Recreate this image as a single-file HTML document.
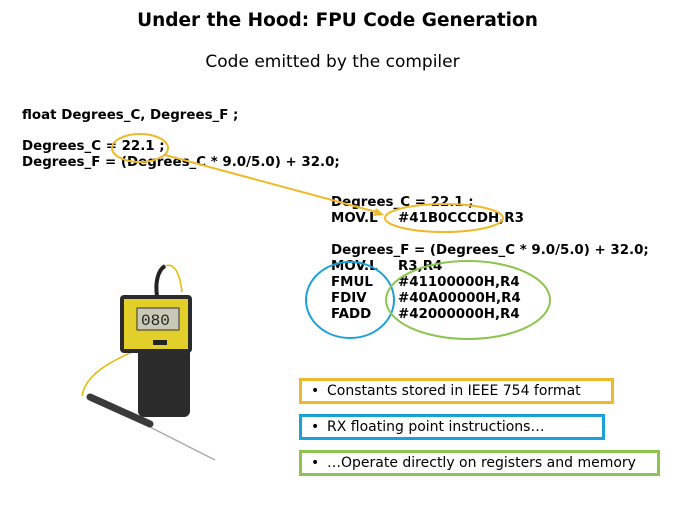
<!DOCTYPE html>
<html><head><style>
body{margin:0;width:675px;height:506px;background:#fff;position:relative;overflow:hidden;font-family:"DejaVu Sans",sans-serif}
.t{position:absolute;white-space:pre;color:#000}
.c{font-weight:bold;font-size:13.4px;line-height:16px}
.box{position:absolute;border:3px solid;height:20px;font-size:14px;line-height:20px;box-sizing:content-box}
.box span{position:absolute;left:9px}
.box b{font-weight:normal;position:absolute;left:25px}
</style></head><body>
<div class="t" style="left:0;width:675px;text-align:center;top:10px;font-size:18.5px;font-weight:bold">Under the Hood: FPU Code Generation</div>
<div class="t" style="left:0;width:665px;text-align:center;top:52px;font-size:17px">Code emitted by the compiler</div>
<div class="t c" style="left:22px;top:108px">float Degrees_C, Degrees_F ;</div>
<div class="t c" style="left:22px;top:139px">Degrees_C = 22.1 ;</div>
<div class="t c" style="left:22px;top:155px">Degrees_F = (Degrees_C * 9.0/5.0) + 32.0;</div>
<div class="t c" style="left:331px;top:195px">Degrees_C = 22.1 ;</div>
<div class="t c" style="left:331px;top:211px">MOV.L</div><div class="t c" style="left:398px;top:211px">#41B0CCCDH,R3</div>
<div class="t c" style="left:331px;top:243px">Degrees_F = (Degrees_C * 9.0/5.0) + 32.0;</div>
<div class="t c" style="left:331px;top:259px">MOV.L</div><div class="t c" style="left:398px;top:259px">R3,R4</div>
<div class="t c" style="left:331px;top:275px">FMUL</div><div class="t c" style="left:398px;top:275px">#41100000H,R4</div>
<div class="t c" style="left:331px;top:291px">FDIV</div><div class="t c" style="left:398px;top:291px">#40A00000H,R4</div>
<div class="t c" style="left:331px;top:307px">FADD</div><div class="t c" style="left:398px;top:307px">#42000000H,R4</div>
<svg width="675" height="506" style="position:absolute;left:0;top:0">
<ellipse cx="140" cy="148" rx="28" ry="14" fill="none" stroke="#f0b929" stroke-width="2"/>
<line x1="165" y1="155" x2="380" y2="213" stroke="#f0b929" stroke-width="2"/>
<polygon points="384,215 373,216 376,208" fill="#f0b929"/>
<ellipse cx="444" cy="218" rx="59" ry="14" fill="none" stroke="#f0b929" stroke-width="2"/>
<ellipse cx="350" cy="300" rx="44" ry="38" fill="none" stroke="#1ba1d9" stroke-width="2"/>
<ellipse cx="468" cy="300" rx="82" ry="39" fill="none" stroke="#8dc44f" stroke-width="2"/>
<path d="M157 296 C155 280 158 268 165 266 C175 262 180 275 182 292" fill="none" stroke="#e8b800" stroke-width="1.5"/>
<path d="M157 296 C155 282 158 270 165 266" fill="none" stroke="#222" stroke-width="4"/>
<path d="M132 352 C110 362 85 375 82 396" fill="none" stroke="#e8b800" stroke-width="1.5"/>
<rect x="138" y="345" width="52" height="72" rx="6" fill="#2b2b2b"/>
<rect x="120" y="295" width="72" height="58" rx="4" fill="#2b2b2b"/>
<rect x="124" y="299" width="64" height="50" fill="#e2cf2a"/>
<rect x="137" y="308" width="42" height="22" fill="#c9c9b8" stroke="#333"/>
<text x="141" y="325" font-family="Liberation Mono" font-size="16" fill="#222">080</text>
<rect x="153" y="340" width="14" height="5" fill="#222"/>
<line x1="148" y1="426" x2="215" y2="460" stroke="#aaa" stroke-width="1.5"/>
<line x1="90" y1="397" x2="150" y2="424" stroke="#3a3a3a" stroke-width="7" stroke-linecap="round"/>
</svg>
<div class="box" style="left:299px;top:378px;width:309px;border-color:#f0b929"><span>•</span><b>Constants stored in IEEE 754 format</b></div>
<div class="box" style="left:299px;top:414px;width:300px;border-color:#1ba1d9"><span>•</span><b>RX floating point instructions…</b></div>
<div class="box" style="left:299px;top:450px;width:355px;border-color:#8dc44f"><span>•</span><b>…Operate directly on registers and memory</b></div>
</body></html>
